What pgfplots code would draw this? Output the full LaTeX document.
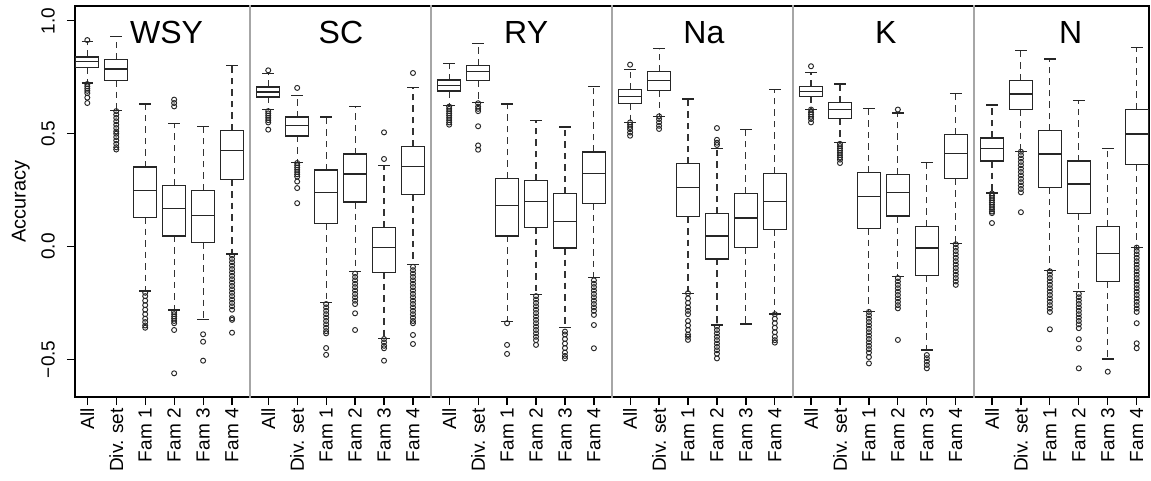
\documentclass[border=0pt]{standalone}
\usepackage{fontspec}
\setmainfont{Liberation Sans}
\usepackage{pgfplots}
\pgfplotsset{compat=1.18}
\pgfplotsset{
  boxline/.style={draw=black!85, line width=1.2pt, solid, mark=none, forget plot},
  whisk/.style={draw=black!80, line width=1.1pt, dash pattern=on 6.5pt off 5pt, mark=none, forget plot},
  outl/.style={only marks, mark=o, mark size=2.5pt, mark options={line width=0.95pt, solid, draw=black!85}, forget plot},
}
% box: position, lower whisker, lower quartile, median, upper quartile, upper whisker
\newcommand{\bx}[6]{%
  \pgfmathsetmacro\bxL{#1-0.4}\pgfmathsetmacro\bxR{#1+0.4}%
  \pgfmathsetmacro\cpL{#1-0.2}\pgfmathsetmacro\cpR{#1+0.2}%
  \addplot[whisk] coordinates {(#1,#5) (#1,#6)};
  \addplot[whisk] coordinates {(#1,#3) (#1,#2)};
  \addplot[boxline] coordinates {(\cpL,#6) (\cpR,#6)};
  \addplot[boxline] coordinates {(\cpL,#2) (\cpR,#2)};
  \addplot[boxline, fill=white] coordinates {(\bxL,#3) (\bxR,#3) (\bxR,#5) (\bxL,#5)} -- cycle;
  \addplot[boxline] coordinates {(\bxL,#4) (\bxR,#4)};
}
% outliers: position, list of values
\newcommand{\ol}[2]{%
  \addplot[outl] table[row sep=\\, header=false, x expr=#1, y index=0] {#2};
}
\newcommand{\tl}{\fontsize{19}{22}\selectfont}
\begin{document}
\begin{tikzpicture}
\useasboundingbox (-75pt,-83pt) rectangle (1076pt,397pt);
\begin{axis}[
  at={(0,0)}, anchor=south west,
  scale only axis, width=1074pt, height=391pt,
  xmin=-0.425, xmax=36.675, ymin=-0.667, ymax=1.066,
  axis line style={line width=1.3pt, black},
  tick style={line width=1.2pt, black},
  tick align=outside, major tick length=8pt,
  xtick pos=left, ytick pos=left,
  xtick={0,1,2,3,4,5, 6.25,7.25,8.25,9.25,10.25,11.25, 12.5,13.5,14.5,15.5,16.5,17.5, 18.75,19.75,20.75,21.75,22.75,23.75, 25,26,27,28,29,30, 31.25,32.25,33.25,34.25,35.25,36.25},
  xticklabels={All,Div. set,Fam 1,Fam 2,Fam 3,Fam 4,All,Div. set,Fam 1,Fam 2,Fam 3,Fam 4,All,Div. set,Fam 1,Fam 2,Fam 3,Fam 4,All,Div. set,Fam 1,Fam 2,Fam 3,Fam 4,All,Div. set,Fam 1,Fam 2,Fam 3,Fam 4,All,Div. set,Fam 1,Fam 2,Fam 3,Fam 4},
  ytick={-0.5,0,0.5,1},
  yticklabels={−0.5,0.0,0.5,1.0},
  xticklabel style={rotate=90, anchor=east, font=\tl, inner sep=3pt},
  yticklabel style={rotate=90, anchor=south, font=\tl, inner xsep=3pt, inner ysep=12pt},
  ylabel={Accuracy},
  ylabel style={at={(axis description cs:-0.0505,0.5)}, anchor=center, font=\fontsize{20}{24}\selectfont},
]
% panel separators
\addplot[black!35, line width=1.5pt, forget plot] coordinates {(5.625,-1) (5.625,2)};
\addplot[black!35, line width=1.5pt, forget plot] coordinates {(11.875,-1) (11.875,2)};
\addplot[black!35, line width=1.5pt, forget plot] coordinates {(18.125,-1) (18.125,2)};
\addplot[black!35, line width=1.5pt, forget plot] coordinates {(24.375,-1) (24.375,2)};
\addplot[black!35, line width=1.5pt, forget plot] coordinates {(30.625,-1) (30.625,2)};

% ===== WSY =====
\bx{0}{0.725}{0.794}{0.820}{0.840}{0.907}
\ol{0}{0.915\\ 0.72\\ 0.71\\ 0.70\\ 0.69\\ 0.68\\ 0.66\\ 0.636\\}
\bx{1}{0.602}{0.737}{0.787}{0.828}{0.932}
\ol{1}{0.60\\ 0.585\\ 0.57\\ 0.555\\ 0.54\\ 0.525\\ 0.51\\ 0.50\\ 0.485\\ 0.47\\ 0.455\\ 0.44\\ 0.43\\}
\bx{2}{-0.197}{0.130}{0.247}{0.352}{0.632}
\ol{2}{-0.205\\ -0.22\\ -0.24\\ -0.26\\ -0.28\\ -0.30\\ -0.32\\ -0.335\\ -0.35\\ -0.36\\}
\bx{3}{-0.281}{0.047}{0.167}{0.269}{0.544}
\ol{3}{0.651\\ 0.636\\ 0.621\\ -0.29\\ -0.30\\ -0.31\\ -0.32\\ -0.33\\ -0.34\\ -0.37\\ -0.562\\}
\bx{4}{-0.325}{0.019}{0.139}{0.249}{0.533}
\ol{4}{-0.389\\ -0.422\\ -0.506\\}
\bx{5}{-0.033}{0.296}{0.425}{0.515}{0.802}
\ol{5}{-0.04\\ -0.055\\ -0.07\\ -0.085\\ -0.10\\ -0.115\\ -0.13\\ -0.145\\ -0.16\\ -0.175\\ -0.19\\ -0.205\\ -0.22\\ -0.235\\ -0.25\\ -0.265\\ -0.28\\ -0.318\\ -0.325\\ -0.382\\}

% ===== SC =====
\bx{6.25}{0.607}{0.663}{0.685}{0.707}{0.766}
\ol{6.25}{0.781\\ 0.60\\ 0.59\\ 0.58\\ 0.57\\ 0.56\\ 0.55\\ 0.518\\}
\bx{7.25}{0.373}{0.490}{0.536}{0.574}{0.669}
\ol{7.25}{0.703\\ 0.37\\ 0.36\\ 0.35\\ 0.34\\ 0.33\\ 0.32\\ 0.31\\ 0.288\\ 0.259\\ 0.192\\}
\bx{8.25}{-0.249}{0.101}{0.240}{0.339}{0.574}
\ol{8.25}{-0.255\\ -0.27\\ -0.285\\ -0.30\\ -0.315\\ -0.33\\ -0.345\\ -0.36\\ -0.375\\ -0.385\\ -0.45\\ -0.48\\}
\bx{9.25}{-0.111}{0.197}{0.321}{0.410}{0.621}
\ol{9.25}{-0.12\\ -0.135\\ -0.15\\ -0.165\\ -0.18\\ -0.195\\ -0.21\\ -0.225\\ -0.24\\ -0.255\\ -0.296\\ -0.37\\}
\bx{10.25}{-0.407}{-0.114}{-0.004}{0.086}{0.359}
\ol{10.25}{0.506\\ 0.388\\ -0.41\\ -0.425\\ -0.44\\ -0.451\\ -0.506\\}
\bx{11.25}{-0.081}{0.229}{0.354}{0.444}{0.703}
\ol{11.25}{0.769\\ -0.09\\ -0.105\\ -0.12\\ -0.135\\ -0.15\\ -0.165\\ -0.18\\ -0.195\\ -0.21\\ -0.225\\ -0.24\\ -0.255\\ -0.27\\ -0.285\\ -0.30\\ -0.315\\ -0.33\\ -0.34\\ -0.392\\ -0.432\\}

% ===== RY =====
\bx{12.5}{0.624}{0.689}{0.714}{0.738}{0.811}
\ol{12.5}{0.62\\ 0.61\\ 0.60\\ 0.59\\ 0.58\\ 0.57\\ 0.56\\ 0.55\\ 0.54\\}
\bx{13.5}{0.639}{0.735}{0.774}{0.803}{0.901}
\ol{13.5}{0.635\\ 0.62\\ 0.61\\ 0.60\\ 0.533\\ 0.448\\ 0.429\\}
\bx{14.5}{-0.333}{0.047}{0.182}{0.302}{0.632}
\ol{14.5}{-0.34\\ -0.436\\ -0.476\\}
\bx{15.5}{-0.214}{0.086}{0.198}{0.293}{0.558}
\ol{15.5}{-0.22\\ -0.235\\ -0.25\\ -0.265\\ -0.28\\ -0.295\\ -0.31\\ -0.325\\ -0.34\\ -0.355\\ -0.37\\ -0.385\\ -0.40\\ -0.415\\ -0.436\\}
\bx{16.5}{-0.358}{-0.007}{0.112}{0.234}{0.530}
\ol{16.5}{-0.377\\ -0.39\\ -0.41\\ -0.43\\ -0.45\\ -0.47\\ -0.485\\ -0.496\\}
\bx{17.5}{-0.138}{0.191}{0.322}{0.419}{0.710}
\ol{17.5}{-0.15\\ -0.165\\ -0.18\\ -0.195\\ -0.21\\ -0.225\\ -0.24\\ -0.255\\ -0.27\\ -0.285\\ -0.303\\ -0.348\\ -0.451\\}

% ===== Na =====
\bx{18.75}{0.550}{0.635}{0.666}{0.695}{0.784}
\ol{18.75}{0.806\\ 0.55\\ 0.54\\ 0.53\\ 0.52\\ 0.505\\ 0.491\\}
\bx{19.75}{0.577}{0.692}{0.737}{0.774}{0.876}
\ol{19.75}{0.577\\ 0.565\\ 0.55\\ 0.535\\ 0.521\\}
\bx{20.75}{-0.207}{0.133}{0.262}{0.367}{0.654}
\ol{20.75}{-0.207\\ -0.23\\ -0.25\\ -0.27\\ -0.285\\ -0.30\\ -0.33\\ -0.35\\ -0.37\\ -0.39\\ -0.40\\ -0.414\\}
\bx{21.75}{-0.348}{-0.055}{0.047}{0.146}{0.436}
\ol{21.75}{0.525\\ 0.473\\ 0.46\\ 0.45\\ -0.355\\ -0.37\\ -0.385\\ -0.40\\ -0.415\\ -0.43\\ -0.445\\ -0.46\\ -0.475\\ -0.496\\}
\bx{22.75}{-0.343}{-0.004}{0.126}{0.235}{0.518}
\bx{23.75}{-0.299}{0.074}{0.198}{0.324}{0.695}
\ol{23.75}{-0.30\\ -0.32\\ -0.34\\ -0.36\\ -0.38\\ -0.40\\ -0.415\\ -0.426\\}

% ===== K =====
\bx{25}{0.607}{0.666}{0.688}{0.710}{0.772}
\ol{25}{0.799\\ 0.607\\ 0.595\\ 0.585\\ 0.575\\ 0.565\\ 0.55\\}
\bx{26}{0.462}{0.567}{0.607}{0.639}{0.720}
\ol{26}{0.455\\ 0.445\\ 0.435\\ 0.425\\ 0.415\\ 0.405\\ 0.395\\ 0.385\\ 0.37\\}
\bx{27}{-0.288}{0.081}{0.222}{0.328}{0.611}
\ol{27}{-0.29\\ -0.305\\ -0.32\\ -0.335\\ -0.35\\ -0.365\\ -0.38\\ -0.395\\ -0.41\\ -0.425\\ -0.44\\ -0.455\\ -0.47\\ -0.49\\ -0.518\\}
\bx{28}{-0.133}{0.135}{0.238}{0.320}{0.592}
\ol{28}{0.607\\ -0.14\\ -0.155\\ -0.17\\ -0.185\\ -0.20\\ -0.215\\ -0.23\\ -0.245\\ -0.26\\ -0.274\\ -0.414\\}
\bx{29}{-0.459}{-0.130}{-0.007}{0.089}{0.373}
\ol{29}{-0.481\\ -0.495\\ -0.51\\ -0.525\\ -0.54\\}
\bx{30}{0.015}{0.300}{0.411}{0.496}{0.678}
\ol{30}{0.01\\ -0.005\\ -0.02\\ -0.035\\ -0.05\\ -0.065\\ -0.08\\ -0.095\\ -0.11\\ -0.125\\ -0.14\\ -0.155\\ -0.17\\}

% ===== N =====
\bx{31.25}{0.237}{0.379}{0.433}{0.481}{0.627}
\ol{31.25}{0.235\\ 0.225\\ 0.215\\ 0.205\\ 0.195\\ 0.185\\ 0.175\\ 0.165\\ 0.155\\ 0.148\\ 0.104\\}
\bx{32.25}{0.422}{0.607}{0.676}{0.737}{0.868}
\ol{32.25}{0.42\\ 0.405\\ 0.39\\ 0.375\\ 0.36\\ 0.345\\ 0.33\\ 0.315\\ 0.30\\ 0.285\\ 0.27\\ 0.255\\ 0.24\\ 0.152\\}
\bx{33.25}{-0.107}{0.262}{0.410}{0.513}{0.831}
\ol{33.25}{-0.11\\ -0.125\\ -0.14\\ -0.155\\ -0.17\\ -0.185\\ -0.20\\ -0.215\\ -0.23\\ -0.245\\ -0.26\\ -0.275\\ -0.29\\ -0.367\\}
\bx{34.25}{-0.200}{0.146}{0.277}{0.379}{0.646}
\ol{34.25}{-0.21\\ -0.225\\ -0.24\\ -0.255\\ -0.27\\ -0.285\\ -0.30\\ -0.315\\ -0.33\\ -0.345\\ -0.362\\ -0.411\\ -0.451\\ -0.54\\}
\bx{35.25}{-0.499}{-0.154}{-0.030}{0.089}{0.433}
\ol{35.25}{-0.555\\}
\bx{36.25}{-0.003}{0.364}{0.499}{0.609}{0.883}
\ol{36.25}{-0.005\\ -0.02\\ -0.035\\ -0.05\\ -0.065\\ -0.08\\ -0.095\\ -0.11\\ -0.125\\ -0.14\\ -0.155\\ -0.17\\ -0.185\\ -0.20\\ -0.215\\ -0.23\\ -0.245\\ -0.26\\ -0.275\\ -0.29\\ -0.34\\ -0.429\\ -0.451\\}

% panel titles
\node[anchor=base, font=\fontsize{32}{36}\selectfont] at (axis cs:2.74,0.902) {WSY};
\node[anchor=base, font=\fontsize{32}{36}\selectfont] at (axis cs:8.76,0.902) {SC};
\node[anchor=base, font=\fontsize{32}{36}\selectfont] at (axis cs:15.16,0.902) {RY};
\node[anchor=base, font=\fontsize{32}{36}\selectfont] at (axis cs:21.30,0.902) {Na};
\node[anchor=base, font=\fontsize{32}{36}\selectfont] at (axis cs:27.58,0.902) {K};
\node[anchor=base, font=\fontsize{32}{36}\selectfont] at (axis cs:33.97,0.902) {N};
\end{axis}
\end{tikzpicture}
\end{document}
